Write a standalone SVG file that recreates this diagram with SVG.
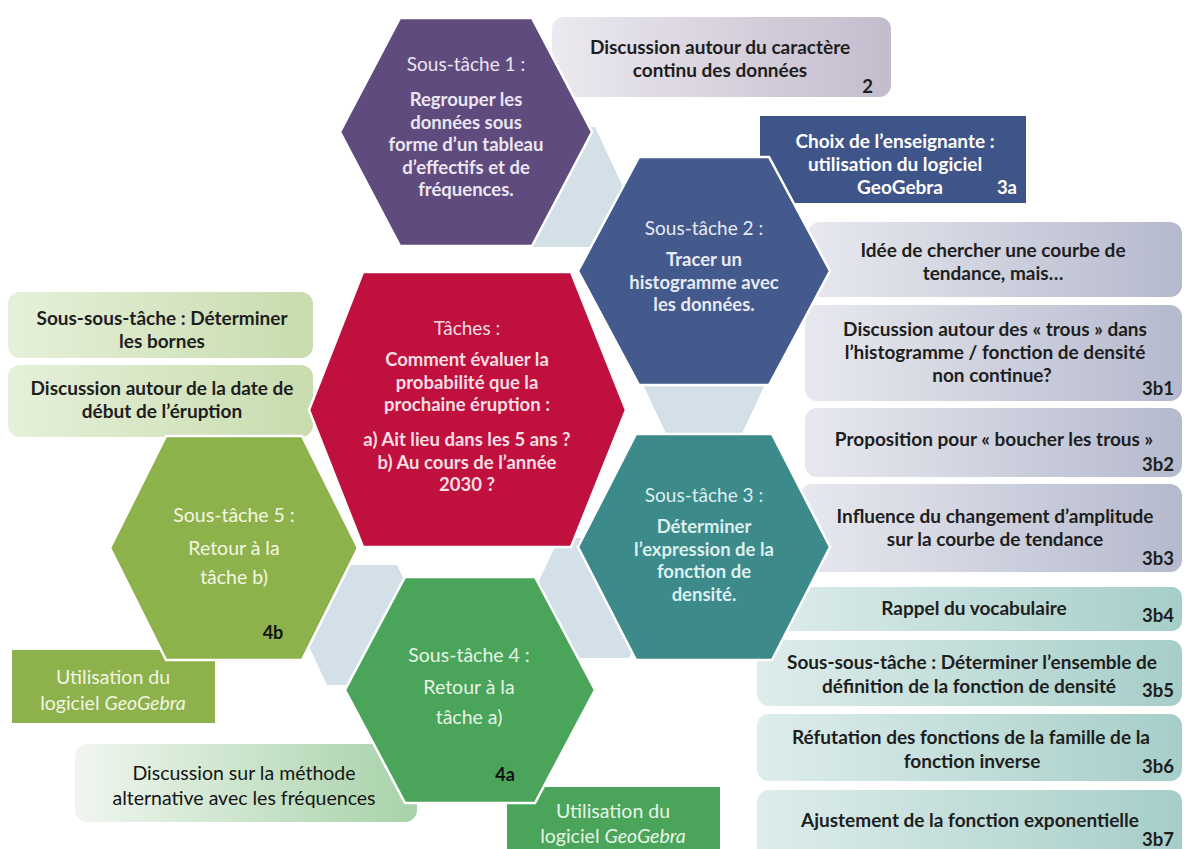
<svg xmlns="http://www.w3.org/2000/svg" width="1184" height="849" viewBox="0 0 1184 849">
<defs>
<linearGradient id="gPur" x1="0" y1="0" x2="1" y2="0"><stop offset="0" stop-color="#ece9f0"/><stop offset="1" stop-color="#c3bccd"/></linearGradient>
<linearGradient id="gBlu" x1="0" y1="0" x2="1" y2="0"><stop offset="0" stop-color="#e8e9ef"/><stop offset="1" stop-color="#b5b9cd"/></linearGradient>
<linearGradient id="gTea" x1="0" y1="0" x2="1" y2="0"><stop offset="0" stop-color="#deedeb"/><stop offset="1" stop-color="#a6cec9"/></linearGradient>
<linearGradient id="gGrn" x1="0" y1="0" x2="1" y2="0"><stop offset="0" stop-color="#e6f0da"/><stop offset="1" stop-color="#c8dcae"/></linearGradient>
<linearGradient id="gMet" x1="0" y1="0" x2="1" y2="0"><stop offset="0" stop-color="#f0f6ef"/><stop offset="1" stop-color="#a7d2a9"/></linearGradient>
</defs>
<style>
.bx{font-family:Lato,"Open Sans",sans-serif;font-weight:700;font-size:19px;fill:#1e1e1e;text-anchor:middle}
.num{font-family:Lato,"Open Sans",sans-serif;font-weight:700;font-size:18.5px;fill:#1e1e1e;text-anchor:end}
.hx{font-family:Lato,"Open Sans",sans-serif;font-weight:700;font-size:18.5px;text-anchor:middle}
.hh{font-family:Lato,"Open Sans",sans-serif;font-weight:400;font-size:19px;text-anchor:middle}
.cd{font-family:Lato,"Open Sans",sans-serif;font-weight:400;font-size:19.5px;text-anchor:middle}
.lbl{font-family:Lato,"Open Sans",sans-serif;font-weight:700;font-size:18px;fill:#111111;text-anchor:middle}
.hex{stroke:#ffffff;stroke-width:2.5}
.con{fill:#d4e0e7}
</style>
<rect width="1184" height="849" fill="#ffffff"/>

<g id="connectors">
<polygon class="con" points="525,127 595,127 623,187 595,247 525,247 497,187"/>
<polygon class="con" points="669,320 739,320 767,380 739,440 669,440 641,380"/>
<polygon class="con" points="559,538 629,538 657,598 629,658 559,658 531,598"/>
<polygon class="con" points="327,565 397,565 425,625 397,685 327,685 299,625"/>
</g>

<g id="box-2">
<rect x="552" y="17" width="339" height="80" rx="12" fill="url(#gPur)"/>
<text class="bx" x="720" y="54">Discussion  autour du caractère</text>
<text class="bx" x="720" y="77">continu des données</text>
<text class="num" x="873" y="93">2</text>
</g>
<g id="box-3a">
<rect x="760" y="116" width="266" height="87" fill="#3f5489"/>
<text class="bx" x="895" y="148" style="fill:#ffffff">Choix de l’enseignante :</text>
<text class="bx" x="895" y="171" style="fill:#ffffff">utilisation du logiciel</text>
<text class="bx" x="900" y="194" style="fill:#ffffff">GeoGebra</text>
<text class="num" x="1017" y="194" style="fill:#ffffff">3a</text>
</g>
<g id="box-idee">
<rect x="808" y="222" width="374" height="75" rx="12" fill="url(#gBlu)"/>
<text class="bx" x="993" y="257">Idée de chercher une courbe de</text>
<text class="bx" x="993" y="280">tendance, mais…</text>
</g>
<g id="box-3b1">
<rect x="805" y="305" width="377" height="96" rx="12" fill="url(#gBlu)"/>
<text class="bx" x="995" y="336">Discussion  autour des « trous » dans</text>
<text class="bx" x="995" y="359">l’histogramme / fonction de densité</text>
<text class="bx" x="992" y="382">non continue?</text>
<text class="num" x="1174" y="395">3b1</text>
</g>
<g id="box-3b2">
<rect x="805" y="408" width="377" height="69" rx="12" fill="url(#gBlu)"/>
<text class="bx" x="994" y="446">Proposition pour « boucher les trous »</text>
<text class="num" x="1174" y="471">3b2</text>
</g>
<g id="box-3b3">
<rect x="800" y="484" width="382" height="88" rx="12" fill="url(#gBlu)"/>
<text class="bx" x="995" y="523">Influence du changement d’amplitude</text>
<text class="bx" x="995" y="546">sur la courbe de tendance</text>
<text class="num" x="1174" y="565">3b3</text>
</g>
<g id="box-3b4">
<rect x="757" y="587" width="425" height="44" rx="10" fill="url(#gTea)"/>
<text class="bx" x="974" y="615">Rappel du vocabulaire</text>
<text class="num" x="1174" y="622">3b4</text>
</g>
<g id="box-3b5">
<rect x="757" y="640" width="425" height="66" rx="12" fill="url(#gTea)"/>
<text class="bx" x="972" y="669">Sous-sous-tâche : Déterminer l’ensemble de</text>
<text class="bx" x="969" y="693">définition de la fonction de densité</text>
<text class="num" x="1174" y="697">3b5</text>
</g>
<g id="box-3b6">
<rect x="757" y="714" width="425" height="67" rx="12" fill="url(#gTea)"/>
<text class="bx" x="971" y="744">Réfutation des fonctions de la famille de la</text>
<text class="bx" x="972" y="768">fonction inverse</text>
<text class="num" x="1174" y="773">3b6</text>
</g>
<g id="box-3b7">
<rect x="757" y="790" width="425" height="75" rx="12" fill="url(#gTea)"/>
<text class="bx" x="970" y="827">Ajustement de la fonction exponentielle</text>
<text class="num" x="1174" y="846">3b7</text>
</g>
<g id="box-bornes">
<rect x="8" y="292" width="305" height="66" rx="12" fill="url(#gGrn)"/>
<text class="bx" x="162" y="325">Sous-sous-tâche : Déterminer</text>
<text class="bx" x="162" y="348">les bornes</text>
</g>
<g id="box-date">
<rect x="8" y="365" width="305" height="72" rx="12" fill="url(#gGrn)"/>
<text class="bx" x="162" y="395">Discussion  autour de la date de</text>
<text class="bx" x="162" y="418">début de l’éruption</text>
</g>
<g id="box-geogebra-4b">
<rect x="12" y="650" width="203" height="73" fill="#8db24b"/>
<text class="cd" x="113" y="684" style="fill:#f1f5e2">Utilisation du</text>
<text class="cd" x="113" y="710" style="fill:#f1f5e2">logiciel <tspan font-style="italic">GeoGebra</tspan></text>
</g>
<g id="box-methode">
<rect x="75" y="744" width="342" height="78" rx="12" fill="url(#gMet)"/>
<text class="cd" x="244" y="780" style="fill:#151515">Discussion  sur la méthode</text>
<text class="cd" x="244" y="805" style="fill:#151515">alternative avec les fréquences</text>
</g>
<g id="box-geogebra-4a">
<rect x="507" y="787" width="213" height="62" fill="#4aa55a"/>
<text class="cd" x="613" y="818" style="fill:#e6f4e6">Utilisation du</text>
<text class="cd" x="613" y="843" style="fill:#e6f4e6">logiciel <tspan font-style="italic">GeoGebra</tspan></text>
</g>

<g id="hex-st1">
<polygon class="hex" fill="#5f4b7e" points="400,18 532,18 592,132 532,246 400,246 340,132"/>
<text class="hh" x="466" y="71" fill="#ebe6f1">Sous-tâche 1 :</text>
<text class="hx" x="466" y="106" fill="#ebe6f1">Regrouper les</text>
<text class="hx" x="466" y="128.5" fill="#ebe6f1">données sous</text>
<text class="hx" x="466" y="151" fill="#ebe6f1">forme d’un tableau</text>
<text class="hx" x="466" y="173.5" fill="#ebe6f1">d’effectifs et de</text>
<text class="hx" x="466" y="196" fill="#ebe6f1">fréquences.</text>
</g>
<g id="hex-st2">
<polygon class="hex" fill="#44598c" points="639,157 769,157 830,271 769,385 639,385 578,271"/>
<text class="hh" x="704" y="235" fill="#e7ebf4">Sous-tâche 2 :</text>
<text class="hx" x="704" y="266" fill="#e7ebf4">Tracer un</text>
<text class="hx" x="704" y="288.5" fill="#e7ebf4">histogramme avec</text>
<text class="hx" x="704" y="311" fill="#e7ebf4">les données.</text>
</g>
<g id="hex-taches">
<polygon class="hex" fill="#c0103e" points="363,272 571,272 626,410 571,547 363,547 309,410"/>
<text class="hh" x="467" y="335" fill="#f6dde3">Tâches :</text>
<text class="hx" x="467" y="366" fill="#f6dde3">Comment évaluer la</text>
<text class="hx" x="467" y="388.5" fill="#f6dde3">probabilité que la</text>
<text class="hx" x="467" y="411" fill="#f6dde3">prochaine éruption :</text>
<text class="hx" x="467" y="446" fill="#f6dde3">a) Ait lieu dans les 5 ans ?</text>
<text class="hx" x="467" y="468.5" fill="#f6dde3">b) Au cours de l’année</text>
<text class="hx" x="467" y="491" fill="#f6dde3">2030 ?</text>
</g>
<g id="hex-st3">
<polygon class="hex" fill="#3d8a8a" points="636,434 772,434 830,547 772,660 636,660 578,547"/>
<text class="hh" x="704" y="502" fill="#dcf0ef">Sous-tâche 3 :</text>
<text class="hx" x="704" y="533" fill="#dcf0ef">Déterminer</text>
<text class="hx" x="704" y="555.5" fill="#dcf0ef">l’expression de la</text>
<text class="hx" x="704" y="578" fill="#dcf0ef">fonction de</text>
<text class="hx" x="704" y="600.5" fill="#dcf0ef">densité.</text>
</g>
<g id="hex-st4">
<polygon class="hex" fill="#4aa55a" points="405,577 535,577 595,690 535,803 405,803 345,690"/>
<text class="cd" x="469" y="662" fill="#e6f4e6">Sous-tâche 4 :</text>
<text class="cd" x="469" y="694" fill="#e6f4e6">Retour à la</text>
<text class="cd" x="469" y="724" fill="#e6f4e6">tâche a)</text>
<text class="lbl" x="505" y="781">4a</text>
</g>
<g id="hex-st5">
<polygon class="hex" fill="#8db24b" points="166,436 302,436 358,548 302,660 166,660 110,548"/>
<text class="cd" x="234" y="522" fill="#f3f7e4">Sous-tâche 5 :</text>
<text class="cd" x="234" y="555" fill="#f3f7e4">Retour à la</text>
<text class="cd" x="234" y="584" fill="#f3f7e4">tâche b)</text>
<text class="lbl" x="273" y="639">4b</text>
</g>
</svg>
